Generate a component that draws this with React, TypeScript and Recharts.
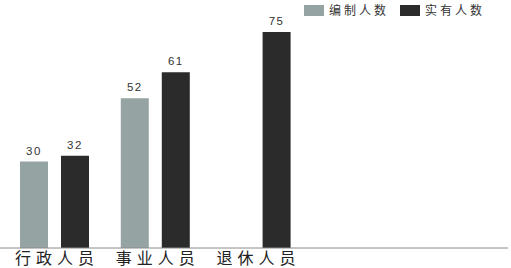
import { BarChart, Bar, XAxis, YAxis, LabelList } from 'recharts';

const categories = ['行政人员', '事业人员', '退休人员', '', ''];
const authorized = [30, 52, null, null, null];
const actual = [32, 61, 75, null, null];

const GRAY = '#95a3a2';
const DARK = '#2b2b2b';

const data = categories.map((name, i) => ({
  name,
  authorized: authorized[i],
  actual: actual[i],
}));

const legendItems = [
  { label: '编制人数', color: GRAY },
  { label: '实有人数', color: DARK },
];

function ChartLegend() {
  return (
    <div
      style={{
        position: 'absolute',
        top: 4,
        left: 304,
        display: 'flex',
        alignItems: 'center',
        fontFamily: '"Noto Sans CJK SC", sans-serif',
      }}
    >
      {legendItems.map((it) => (
        <div key={it.label} style={{ display: 'flex', alignItems: 'center', marginRight: 11 }}>
          <span style={{ width: 20, height: 11, background: it.color, display: 'inline-block', marginRight: 5 }} />
          <span style={{ fontSize: 12, letterSpacing: 3, color: '#333', lineHeight: '12px' }}>{it.label}</span>
        </div>
      ))}
    </div>
  );
}

function CategoryTick({ x, y, payload }: any) {
  return (
    <text
      x={x + 2.5}
      y={y + 8}
      textAnchor="middle"
      fontSize={16}
      letterSpacing={5}
      fill="#222"
      fontFamily='"Noto Sans CJK SC", sans-serif'
    >
      {payload.value}
    </text>
  );
}

const labelStyle = {
  fontSize: 11.5,
  fill: '#333',
  letterSpacing: 1.5,
  fontFamily: '"Liberation Sans", Arial, sans-serif',
};

export default function App() {
  return (
    <div style={{ position: 'absolute', left: 0, top: 0, width: 511, height: 268 }}>
      <BarChart
        width={511}
        height={268}
        data={data}
        margin={{ top: 32, right: 3, bottom: 0, left: 0 }}
        barSize={28}
        barGap={13}
      >
        <XAxis
          dataKey="name"
          height={20}
          padding={{ left: 4, right: 0 }}
          tickLine={false}
          axisLine={{ stroke: '#8a8a8a', strokeWidth: 1 }}
          tick={<CategoryTick />}
          interval={0}
        />
        <YAxis hide domain={[0, 75]} />
        <Bar dataKey="authorized" name="编制人数" fill={GRAY} isAnimationActive={false}>
          <LabelList dataKey="authorized" position="top" offset={7} style={labelStyle} />
        </Bar>
        <Bar dataKey="actual" name="实有人数" fill={DARK} isAnimationActive={false}>
          <LabelList dataKey="actual" position="top" offset={7} style={labelStyle} />
        </Bar>
      </BarChart>
      <ChartLegend />
    </div>
  );
}
